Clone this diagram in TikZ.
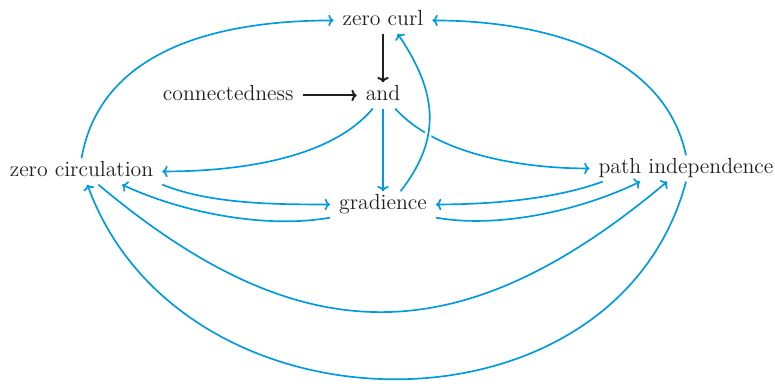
\documentclass[tikz,border=0pt]{standalone}
\usetikzlibrary{arrows.meta,positioning}
\definecolor{linkblue}{RGB}{0,155,222}
\definecolor{inkgray}{RGB}{35,31,32}

\begin{document}
\begin{tikzpicture}[
  x=0.2mm, y=0.2mm,
  node distance=10.8mm,
  lbl/.style={inner xsep=5pt, inner ysep=3pt, text height=1.6ex, text depth=0.4ex, font=\fontsize{12.4}{15}\selectfont, text=inkgray},
  imp/.style={->, draw=linkblue, line width=0.95pt},
  hyp/.style={->, draw=inkgray, line width=1.1pt},
  gap/.style={preaction={draw=white, line width=4pt, -}},
  >={Computer Modern Rightarrow[length=3pt, width=6.5pt]}]
\useasboundingbox (0,0) rectangle (775,-383);
\node[lbl, anchor=base] (curl) at (383,-25) {zero curl};
\node[lbl, anchor=base] (conj) at (383,-100) {and};
\node[lbl, left=of conj] (conn) {connectedness};
\node[lbl, anchor=base] (circ) at (81.5,-176) {zero circulation};
\node[lbl, anchor=base] (grad) at (383,-209) {gradience};
\node[lbl, anchor=base] (pind) at (686,-173) {path independence};
\draw[hyp] (curl) -- (conj);
\draw[hyp] (conn) -- (conj);
\draw[imp] (circ.north) to[out=80, in=180] (curl.west);
\draw[imp] (pind.north) to[out=102, in=0, looseness=0.95] (curl.east);
\draw[imp] (conj.232) to[out=230, in=0, looseness=0.8] (circ.east);
\draw[imp] (conj) -- (grad);
\draw[imp] (conj.-47) to[out=-48, in=180, looseness=0.8] (pind.west);
\draw[imp, gap] (grad.37) to[out=52, in=-56, looseness=1.12] (curl.-42);
\draw[imp] (circ.south east) to[out=-22, in=180, looseness=0.8] (grad.west);
\draw[imp] (grad.south west) to[out=190, in=-25, looseness=0.8] (circ.-18);
\draw[imp] (pind.189) to[out=200, in=0, looseness=0.8] (grad.east);
\draw[imp] (grad.south east) to[out=-10, in=206, looseness=0.8] (pind.196);
\draw[imp] (circ.-38) to[out=-40, in=220, looseness=1.2] (pind.215);
\draw[imp] (pind.south) to[out=-105, in=-70, looseness=1.17] (circ.-66);
\end{tikzpicture}
\end{document}
